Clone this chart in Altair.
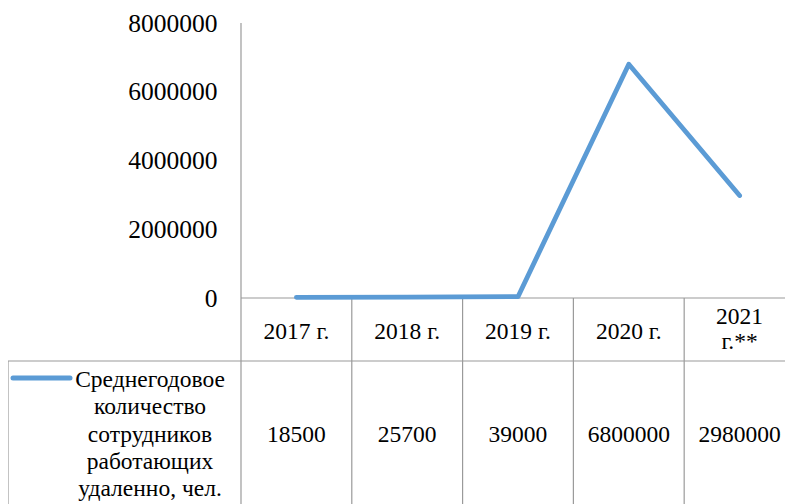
import altair as alt
import pandas as pd

years = ["2017 г.", "2018 г.", "2019 г.", "2020 г.", "2021\nг.**"]
values = [18500, 25700, 39000, 6800000, 2980000]
series_name = "Среднегодовое\nколичество\nсотрудников\nработающих\nудаленно, чел."
y_ticks = [0, 2000000, 4000000, 6000000, 8000000]
col_bounds = [-0.5, 0.5, 1.5, 2.5, 3.5, 4.5]

df = pd.DataFrame({"idx": list(range(len(years))), "year": years, "value": values})
df["multi"] = df["year"].str.contains("\n")
df_b = pd.DataFrame({"b": col_bounds[1:]})
df_axis = pd.DataFrame({"b": col_bounds[:1]})
df_name = pd.DataFrame({"name": [series_name]})

FONT = "Times New Roman, Liberation Serif, serif"
BLUE = "#5B9BD5"
GRID = "#9a9a9a"
W, H = 544, 275
PAD_B = 206
BOTTOM = H + PAD_B  # plot coords of table bottom

xs = alt.Scale(domain=[-0.5, 4.41], nice=False, zero=False)
ys = alt.Scale(domain=[0, 8000000], nice=False)

base = alt.Chart(df)

line = base.mark_line(color=BLUE, strokeWidth=4.8, strokeCap="round", strokeJoin="round").encode(
    x=alt.X("idx:Q", scale=xs, axis=None),
    y=alt.Y("value:Q", scale=ys, axis=alt.Axis(values=y_ticks, format="d", labelFont=FONT,
                                               labelFontSize=25.5, labelColor="black", ticks=False,
                                               grid=False, domain=False, labelPadding=24, title=None)),
)

rule_kw = dict(color=GRID, strokeWidth=1.2)

zero_rule = alt.Chart(df_axis).mark_rule(**rule_kw).encode(
    y=alt.value(H), x=alt.value(0), x2=alt.value(W)
)

row_rule = alt.Chart(df_axis).mark_rule(**rule_kw).encode(
    y=alt.value(338), x=alt.value(-233), x2=alt.value(W)
)

left_border = alt.Chart(df_axis).mark_rule(**rule_kw).encode(
    x=alt.value(-233), y=alt.value(338), y2=alt.value(BOTTOM)
)

axis_line = alt.Chart(df_axis).mark_rule(**rule_kw).encode(
    x=alt.X("b:Q", scale=xs, axis=None), y=alt.value(0), y2=alt.value(BOTTOM)
)

col_lines = alt.Chart(df_b).mark_rule(**rule_kw).encode(
    x=alt.X("b:Q", scale=xs, axis=None), y=alt.value(H), y2=alt.value(BOTTOM)
)

text_kw = dict(font=FONT, fontSize=23.5, color="black", baseline="middle", align="center")

header1 = base.mark_text(**text_kw).encode(
    x=alt.X("idx:Q", scale=xs, axis=None), y=alt.value(309), text="year:N"
).transform_filter("!datum.multi")

header2 = base.mark_text(lineBreak="\n", lineHeight=25, **text_kw).encode(
    x=alt.X("idx:Q", scale=xs, axis=None), y=alt.value(294), text="year:N"
).transform_filter("datum.multi")

vals = base.mark_text(**text_kw).encode(
    x=alt.X("idx:Q", scale=xs, axis=None), y=alt.value(412), text=alt.Text("value:Q", format="d")
)

leg_sym = alt.Chart(df_name).mark_rule(color=BLUE, strokeWidth=5, strokeCap="round").encode(
    x=alt.value(-228), x2=alt.value(-171), y=alt.value(355)
)

leg_text = alt.Chart(df_name).mark_text(lineBreak="\n", lineHeight=27.3, **text_kw).encode(
    x=alt.value(-91), y=alt.value(357), text="name:N"
)

chart = alt.layer(
    zero_rule, row_rule, left_border, axis_line, col_lines, line, header1, header2, vals, leg_sym, leg_text
).properties(
    width=W, height=H, autosize="none",
    padding={"left": 233, "top": 15, "right": 0, "bottom": PAD_B},
).configure_view(stroke=None).configure_text(font=FONT)

chart.save("out.html", embed_options={"renderer": "svg", "actions": False})
